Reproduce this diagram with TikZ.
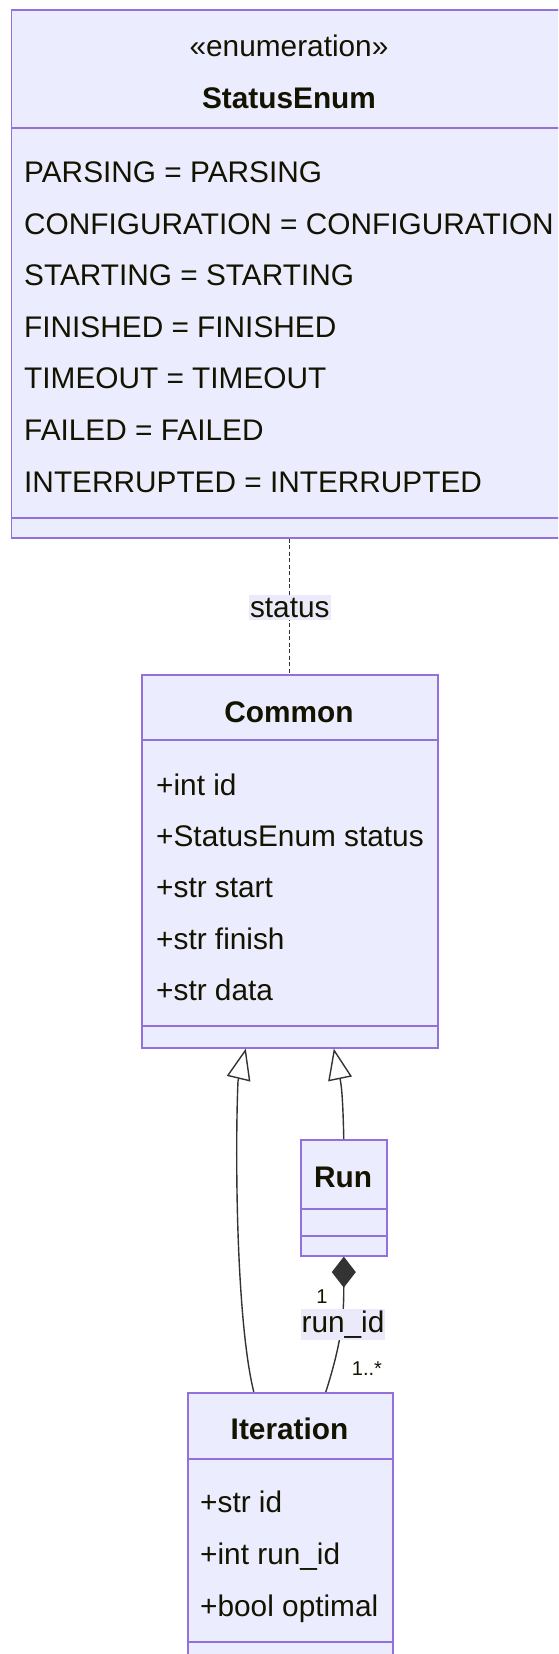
\documentclass[tikz,border=0pt]{standalone}
\usepackage{fontspec}
\setmainfont{Liberation Sans}
\usetikzlibrary{arrows.meta,calc}

\definecolor{umlfill}{HTML}{ECECFF}
\definecolor{umlborder}{HTML}{9370DB}
\definecolor{umltext}{HTML}{131300}
\definecolor{umlline}{HTML}{333333}
\definecolor{lblfill}{HTML}{EAEAFA}

\newcommand\bodyfont{\fontsize{29.8}{35}\selectfont}
\newcommand\multfont{\fontsize{20}{24}\selectfont}

\tikzset{
  classbox/.style={draw=umlborder, fill=umlfill, line width=1.6pt,
    inner sep=0pt, anchor=north west},
  divider/.style={draw=umlborder, line width=1.6pt},
  member/.style={inner sep=0pt, anchor=base west, text=umltext, font=\bodyfont},
  title/.style={inner sep=0pt, anchor=base, text=umltext, font=\bodyfont\bfseries},
  stereo/.style={inner sep=0pt, anchor=base, text=umltext, font=\bodyfont},
  edgelabel/.style={fill=lblfill, inner xsep=1pt, inner ysep=3pt, text=umltext, font=\bodyfont},
  mult/.style={inner sep=0pt, text=umltext, font=\multfont},
  link/.style={draw=umlline, line width=1.4pt},
  inherit/.style={link, -{Triangle[open, length=31pt, width=24pt, fill=white, line width=1.4pt]}},
}

\begin{document}
\begin{tikzpicture}[x=1pt, y=-1pt]
  \useasboundingbox (0,0) rectangle (558,1654);
  \clip (0,0) rectangle (558,1654);

  % StatusEnum enumeration
  \node[classbox, minimum width=557pt, minimum height=527.5pt] (enum) at (10.5,9.5) {};
  \draw[divider] (10.5,128) -- (567.5,128);
  \draw[divider] (10.5,518) -- (567.5,518);
  \node[stereo] (enumstereo) at (289,57) {«enumeration»};
  \node[title] (enumname) at (289,108.5) {StatusEnum};
  \node[member] (e1) at (24,182.5) {PARSING = PARSING};
  \node[member] (e2) at (24,234.1) {CONFIGURATION = CONFIGURATION};
  \node[member] (e3) at (24,285.7) {STARTING = STARTING};
  \node[member] (e4) at (24,337.3) {FINISHED = FINISHED};
  \node[member] (e5) at (24,388.9) {TIMEOUT = TIMEOUT};
  \node[member] (e6) at (24,440.5) {FAILED = FAILED};
  \node[member] (e7) at (24,492.1) {INTERRUPTED = INTERRUPTED};

  % Common class
  \node[classbox, minimum width=296pt, minimum height=373pt] (common) at (141,674) {};
  \draw[divider] (141,740) -- (437,740);
  \draw[divider] (141,1026) -- (437,1026);
  \node[title] (commonname) at (289,722.5) {Common};
  \node[member] (c1) at (156,795.5) {+int id};
  \node[member] (c2) at (156,846.7) {+StatusEnum status};
  \node[member] (c3) at (156,897.9) {+str start};
  \node[member] (c4) at (156,949.1) {+str finish};
  \node[member] (c5) at (156,1000.3) {+str data};

  % Run class
  \node[classbox, minimum width=86pt, minimum height=116pt] (run) at (300,1139) {};
  \draw[divider] (300,1209) -- (386,1209);
  \draw[divider] (300,1236) -- (386,1236);
  \node[title] (runname) at (343,1187.5) {Run};

  % Iteration class
  \node[classbox, minimum width=205pt, minimum height=300pt] (iter) at (187,1392) {};
  \draw[divider] (187,1459) -- (392,1459);
  \draw[divider] (187,1642) -- (392,1642);
  \node[title] (itername) at (289.5,1439.5) {Iteration};
  \node[member] (i1) at (200,1512.5) {+str id};
  \node[member] (i2) at (200,1564.5) {+int run\_id};
  \node[member] (i3) at (200,1616.5) {+bool optimal};

  % dependency StatusEnum -- Common
  \draw[link, line width=1.3pt, dash pattern=on 4pt off 2.5pt] (enum.south -| common.north) -- (common.north)
    node[pos=0.51, edgelabel] (statuslbl) {status};

  % inheritance Run -> Common (curve, then a straight run into the head)
  \draw[inherit]
    (run.north) .. controls (343,1105) and (342,1090) .. (340.5,1081)
    -- ([xshift=-10pt]common.south -| run.north);

  % inheritance Iteration -> Common
  \draw[inherit]
    ([xshift=-36.5pt]iter.north) .. controls (236,1320) and (235,1150) .. (238,1081)
    -- ([xshift=-44pt]common.south);

  % composition Run *-- Iteration
  \draw[link, {Diamond[length=31pt, width=24pt, fill=umlline]}-]
    (run.south) .. controls ($(run.south)+(0,60)$) and ($(run.south)+(-2,85)$) .. ([xshift=35.5pt]iter.north);
  \node[edgelabel, inner ysep=2pt] (runidlbl) at (343,1324.5) {run\_id};
  \node[mult] (multone) at (322,1297) {1};
  \node[mult] (multmany) at (367,1369) {1..*};
\end{tikzpicture}
\end{document}
